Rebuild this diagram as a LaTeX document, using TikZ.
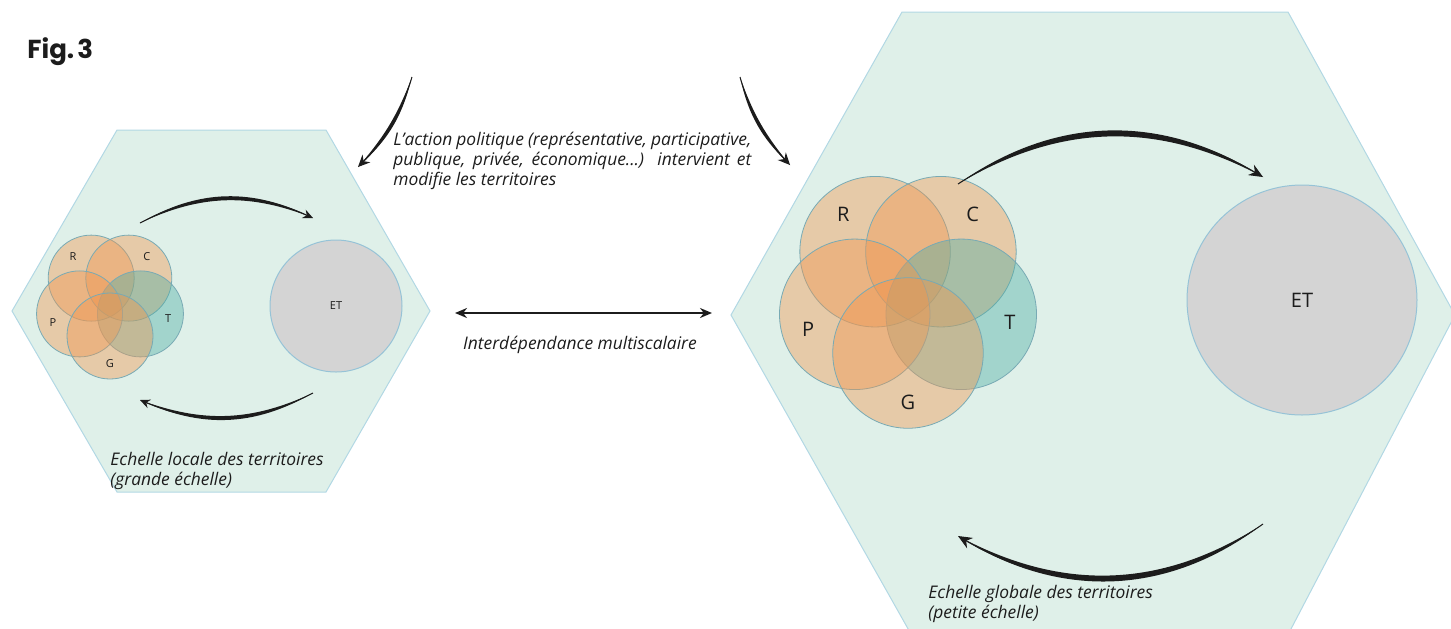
\documentclass[tikz,border=0pt]{standalone}
\usepackage{fontspec}
\setmainfont{Open Sans}
\newfontfamily\figfont{Poppins}
\usetikzlibrary{arrows.meta}

\definecolor{hexfill}{RGB}{223,240,233}
\definecolor{hexline}{RGB}{178,216,228}
\definecolor{setorange}{RGB}{240,150,80}
\definecolor{setteal}{RGB}{80,175,165}
\definecolor{setline}{RGB}{120,170,180}
\definecolor{etfill}{RGB}{212,212,212}
\definecolor{etline}{RGB}{150,195,215}
\definecolor{ink}{RGB}{28,28,28}

\tikzset{
  hexa/.style={fill=hexfill, draw=hexline, line width=0.5pt},
  caption/.style={font=\fontsize{8.7}{10}\selectfont\itshape, text=ink, inner sep=0pt},
  setlabel/.style={text=ink, inner sep=0pt},
  etdisc/.style={circle, fill=etfill, draw=etline, line width=0.5pt, text=ink, inner sep=0pt},
}

\begin{document}
\begin{tikzpicture}[x=0.5pt,y=0.5pt]
  \def\venn(#1)[#2]#3#4{% centre, scale, name prefix, label font
    \begin{scope}[shift={(#1)},scale=#2]
      \foreach \ang/\col in {126/setorange,54/setorange,-18/setteal,198/setorange,-90/setorange}
        \filldraw[fill=\col, fill opacity=0.42, draw=setline, line width=0.4pt] (\ang:32) circle (43);
      \foreach \ang/\lab in {128/R,52/C,-14/T,198/P,-90/G}
        \node[setlabel, font=#4] (#3\lab) at (\ang:60) {\lab};
    \end{scope}
  }
  \def\bowarrow(#1)(#2)#3#4[#5]{% tapered bent arrow
    \pgfmathsetmacro\bowin{180-(#3)}%
    \pgfmathsetmacro\bowbackout{-(#4)}%
    \pgfmathsetmacro\bowbackin{180+(#4)}%
    \pgfmathsetmacro\bowmid{((#3)+(#4))/2}%
    \pgfmathsetmacro\bowmidin{180-\bowmid}%
    \fill[ink] (#1) to[out=#3,in=\bowin,relative] (#2)
      to[out=\bowbackout,in=\bowbackin,relative] (#1);
    \draw[ink, line width=0.5pt, -{Stealth[#5]}] (#1) to[out=\bowmid,in=\bowmidin,relative] (#2);
  }

  \useasboundingbox (0,0) rectangle (1451,-628);

  % hexagons
  \draw[hexa] (12,-311) -- (117,-130) -- (326,-130) -- (430,-311)
    -- (326,-492) -- (117,-492) -- cycle;
  \begin{scope}
    \clip (0,0) rectangle (1451,-628);
    \draw[hexa] (731,-315) -- (902,-12) -- (1288,-12) -- (1455,-315)
      -- (1280,-650) -- (920,-650) -- cycle;
  \end{scope}

  % sets
  \coordinate (vennL) at (110,-304);
  \coordinate (vennR) at (908,-297);
  \venn(vennL)[1]{l}{\fontsize{5.5}{6}\selectfont}
  \venn(vennR)[1.75]{r}{\fontsize{10}{11}\selectfont}
  \node[etdisc, minimum size=66pt, font=\fontsize{5.5}{6}\selectfont] (etL) at (336,-306) {ET};
  \node[etdisc, minimum size=115pt, font=\fontsize{10}{11}\selectfont] (etR) at (1302,-300) {ET};

  % loops
  \coordinate (ltA) at (140,-223);  \coordinate (ltB) at (313,-218);
  \coordinate (lbA) at (313,-393);  \coordinate (lbB) at (140,-400);
  \coordinate (rtA) at (958,-184);  \coordinate (rtB) at (1263,-177);
  \coordinate (rbA) at (1263,-524); \coordinate (rbB) at (958,-536);
  \bowarrow(ltA)(ltB){28.5}{23.5}[length=5pt,width=4.5pt]
  \bowarrow(lbA)(lbB){27.5}{22.5}[length=5pt,width=4.5pt]
  \bowarrow(rtA)(rtB){34}{29.5}[length=7pt,width=6pt]
  \bowarrow(rbA)(rbB){35}{30.5}[length=7pt,width=6pt]

  % political action
  \coordinate (paL1) at (412,-77);  \coordinate (paL2) at (358,-167);
  \coordinate (paR1) at (740,-77);  \coordinate (paR2) at (790,-165);
  \bowarrow(paL1)(paL2){17}{10}[length=6pt,width=5.5pt]
  \bowarrow(paR1)(paR2){-17}{-10}[length=6pt,width=5.5pt]
  \node[caption, text width=179pt, align=justify, anchor=north west] (action) at (393,-132)
    {L'action politique (représentative, participative,\linebreak
     publique, privée, économique...) intervient et\linebreak
     modifie les territoires};

  % scales
  \coordinate (intL) at (455,-313);
  \coordinate (intR) at (712,-313);
  \draw[ink, line width=1.3pt, {Stealth[length=6pt,width=5pt]}-{Stealth[length=6pt,width=5pt]}] (intL) -- (intR);
  \node[caption] (interdep) at (580,-345) {Interdépendance multiscalaire};
  \node[caption, align=left, anchor=north west] (localcap) at (110,-452)
    {Echelle locale des territoires\\(grande échelle)};
  \node[caption, align=left, anchor=north west] (globalcap) at (928,-585)
    {Echelle globale des territoires\\(petite échelle)};

  \node[anchor=west, inner sep=0pt, text=ink, font=\figfont\bfseries\fontsize{13}{13}\selectfont] (figtag) at (27,-52) {Fig.\hspace{0.12em}3};
\end{tikzpicture}
\end{document}
